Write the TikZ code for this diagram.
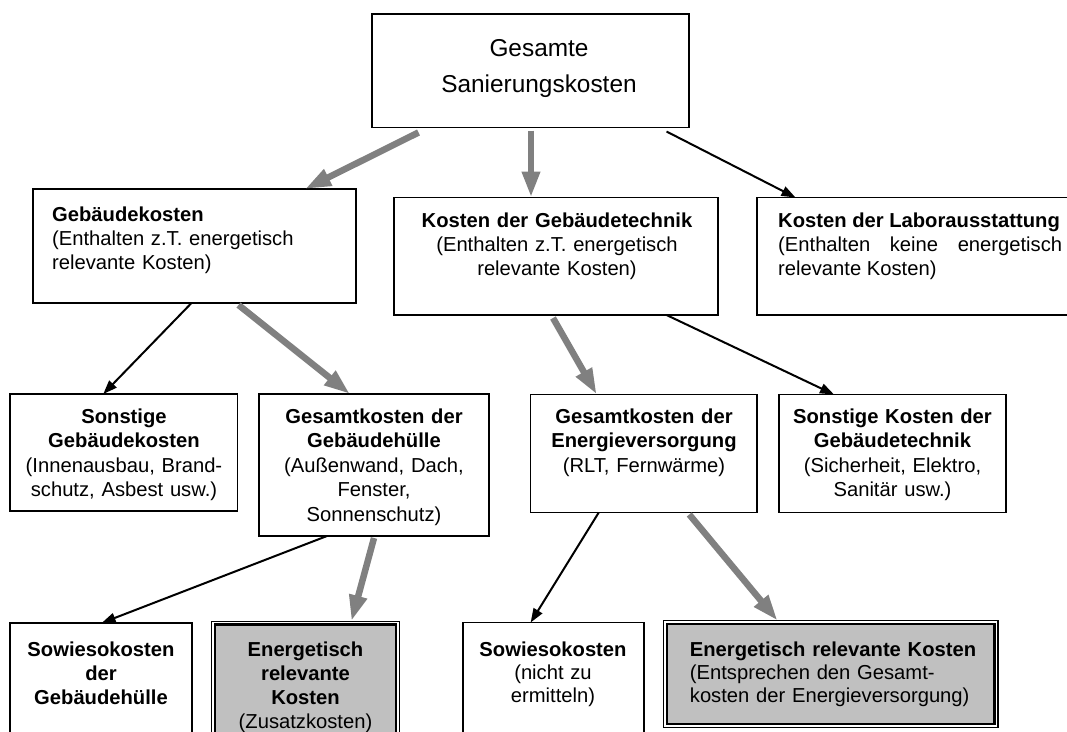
\documentclass[tikz,border=0pt]{standalone}
\usepackage{fontspec}
\setmainfont{Liberation Sans}
\usetikzlibrary{arrows.meta}
\definecolor{arrgray}{HTML}{808080}
\definecolor{boxgray}{HTML}{C0C0C0}
\begin{document}
\begin{tikzpicture}[x=1pt,y=-1pt,
  box/.style={draw, line width=1.8pt, rectangle, inner sep=0pt, outer sep=0pt, anchor=north west},
  dblout/.style={draw, line width=1.3pt, rectangle, inner sep=0pt, outer sep=0pt, anchor=north west},
  dblin/.style={draw, fill=boxgray, line width=2.5pt, rectangle, inner sep=0pt, outer sep=0pt},
  txt/.style={inner sep=0pt, anchor=base, text width=300pt, align=center, font=\fontsize{20.2pt}{24pt}\selectfont},
  txtb/.style={inner sep=0pt, anchor=base, text width=300pt, align=center, font=\fontsize{20.2pt}{24.6pt}\selectfont},
  txtl/.style={inner sep=0pt, anchor=base west, text width=320pt, align=left, font=\fontsize{20.2pt}{24pt}\selectfont},
  garrow/.style={draw=arrgray, line width=6.5pt, -{Triangle[length=26pt,width=17pt]}},
  barrow/.style={draw=black, line width=2pt, -{Triangle[length=14pt,width=10pt]}},
]
\useasboundingbox (0,0) rectangle (1067,731);
% boxes
\node[box, minimum width=317pt, minimum height=113.5pt] (A) at (372,14) {};
\node[box, minimum width=323pt, minimum height=114pt] (B) at (33,189) {};
\node[box, minimum width=324pt, minimum height=117.5pt] (C) at (394,197.5) {};
\node[box, minimum width=328pt, minimum height=117.5pt] (D) at (757,197.5) {};
\node[box, minimum width=227.5pt, minimum height=117pt] (E) at (10,394) {};
\node[box, minimum width=230pt, minimum height=142pt] (F) at (259,394) {};
\node[box, minimum width=226.5pt, minimum height=118pt] (G) at (530.5,394.5) {};
\node[box, minimum width=227pt, minimum height=118pt] (H) at (779,394.5) {};
\node[box, minimum width=181.7pt, minimum height=140pt] (I) at (10.3,623) {};
\node[dblout, minimum width=188.2pt, minimum height=140pt] (J) at (211.3,621.2) {};
\node[dblin, minimum width=181.2pt, minimum height=133pt] (Jin) at (J.center) {};
\node[box, minimum width=180.9pt, minimum height=140pt] (K) at (462.7,622.5) {};
\node[dblout, minimum width=334.7pt, minimum height=107pt] (L) at (663.3,620.7) {};
\node[dblin, minimum width=327.7pt, minimum height=100pt] (Lin) at (L.center) {};
% texts
\node[inner sep=0pt, anchor=base, text width=300pt, align=center, font=\fontsize{24.4pt}{36pt}\selectfont] (At) at (539,56) {Gesamte\\Sanierungskosten};
\node[txtl] (Bt) at (52,221) {\textbf{Gebäudekosten}\\(Enthalten z.T. energetisch\\relevante Kosten)};
\node[txt] (Ct) at (557,227) {\textbf{Kosten der Gebäudetechnik}\\(Enthalten z.T. energetisch\\relevante Kosten)};
\node[inner sep=0pt, anchor=base west, text width=284pt, align=justify, font=\fontsize{20.2pt}{24pt}\selectfont] (Dt) at (778,227) {\tolerance=10000 \hyphenpenalty=10000 \textbf{Kosten der Laborausstattung}\newline (Enthalten keine energetisch relevante Kosten)};
\node[txtb] (Et) at (124,423) {\textbf{Sonstige}\\\textbf{Gebäudekosten}\\(Innenausbau, Brand-\\schutz, Asbest usw.)};
\node[txtb] (Ft) at (374,423) {\textbf{Gesamtkosten der}\\\textbf{Gebäudehülle}\\(Außenwand, Dach,\\Fenster,\\Sonnenschutz)};
\node[txtb] (Gt) at (644,423) {\textbf{Gesamtkosten der}\\\textbf{Energieversorgung}\\(RLT, Fernwärme)};
\node[txtb] (Ht) at (892.5,423) {\textbf{Sonstige Kosten der}\\\textbf{Gebäudetechnik}\\(Sicherheit, Elektro,\\Sanitär usw.)};
\node[txt] (It) at (101,656) {\textbf{Sowiesokosten}\\\textbf{der}\\\textbf{Gebäudehülle}};
\node[txt] (Jt) at (305.5,656) {\textbf{Energetisch}\\\textbf{relevante}\\\textbf{Kosten}\\(Zusatzkosten)};
\node[inner sep=0pt, anchor=base, text width=300pt, align=center, font=\fontsize{20.2pt}{23pt}\selectfont] (Kt) at (553,656) {\textbf{Sowiesokosten}\\(nicht zu\\ermitteln)};
\node[inner sep=0pt, anchor=base west, text width=320pt, align=left, font=\fontsize{20.2pt}{23pt}\selectfont] (Lt) at (689.7,656) {\textbf{Energetisch relevante Kosten}\\(Entsprechen den Gesamt-\\kosten der Energieversorgung)};
% connectors
\draw[garrow] ([xshift=-112pt,yshift=-5pt]A.south) -- ([xshift=110.5pt]B.north);
\draw[garrow] ([xshift=0.5pt,yshift=-3pt]A.south) -- ([xshift=-25pt]C.north);
\draw[barrow] ([xshift=136pt,yshift=-4pt]A.south) -- ([xshift=38.5pt]D.north west);
\draw[barrow] ([xshift=-3pt]B.south) -- ([xshift=-20.5pt]E.north);
\draw[garrow] ([xshift=44pt,yshift=-2pt]B.south) -- ([xshift=-24pt]F.north);
\draw[garrow] ([xshift=-3pt,yshift=-3pt]C.south) -- ([xshift=-47pt]G.north);
\draw[barrow] ([xshift=110.5pt]C.south) -- ([xshift=-58.5pt]H.north);
\draw[barrow] ([xshift=-47pt]F.south) -- ([xshift=0.5pt]I.north);
\draw[garrow] ([yshift=-2pt]F.south) -- ([xshift=46pt]J.north);
\draw[barrow] ([xshift=-45pt]G.south) -- ([xshift=-22.5pt]K.north);
\draw[garrow] ([xshift=45.5pt,yshift=-2pt]G.south) -- ([xshift=-53pt]L.north);
\end{tikzpicture}
\end{document}
